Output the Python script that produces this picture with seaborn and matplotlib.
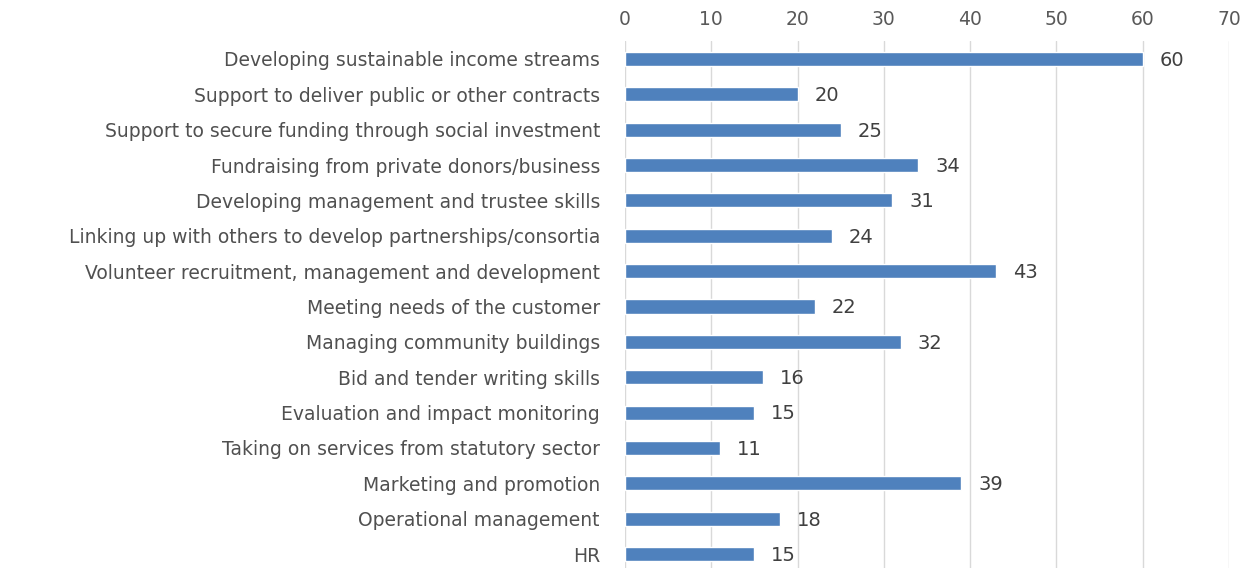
import numpy as np
import pandas as pd
import matplotlib.pyplot as plt
import seaborn as sns


categorie = [
    "Developing sustainable income streams",
    "Support to deliver public or other contracts",
    "Support to secure funding through social investment",
    "Fundraising from private donors/business",
    "Developing management and trustee skills",
    "Linking up with others to develop partnerships/consortia",
    "Volunteer recruitment, management and development",
    "Meeting needs of the customer",
    "Managing community buildings",
    "Bid and tender writing skills",
    "Evaluation and impact monitoring",
    "Taking on services from statutory sector",
    "Marketing and promotion",
    "Operational management",
    "HR",
]
valori = [60, 20, 25, 34, 31, 24, 43, 22, 32, 16, 15, 11, 39, 18, 15]
tick_x = [0, 10, 20, 30, 40, 50, 60, 70]


def grafico():
    sns.set_style("white")
    plt.rcParams["font.family"] = ["DejaVu Sans"]

    df = pd.DataFrame({"categoria": categorie, "valore": valori})

    fig = plt.figure(figsize=(12.53, 5.68), dpi=100)
    ax = fig.add_axes([0.4988, -0.0065, 0.482, 0.9338])

    sns.barplot(data=df, y="categoria", x="valore", orient="h",
                color="#4F81BD", saturation=1, width=0.4, ax=ax, zorder=3)

    ax.set_xlim(0, 70)
    ax.set_xticks(tick_x)
    ax.xaxis.tick_top()
    ax.tick_params(axis="x", length=0, pad=9, labelsize=13.5, labelcolor="#595959")
    ax.tick_params(axis="y", length=0, pad=18, labelsize=13.5, labelcolor="#505050")
    ax.grid(axis="x", color="#D9D9D9", linewidth=1, zorder=0)
    ax.set_axisbelow(True)
    for s in ax.spines.values():
        s.set_visible(False)
    ax.set_xlabel("")
    ax.set_ylabel("")

    for i, v in enumerate(valori):
        ax.annotate(str(v), xy=(v, i), xytext=(12, -1), textcoords="offset points",
                    ha="left", va="center", fontsize=14, color="#404040")

    fig.savefig("out.png", dpi=100)


if __name__ == "__main__":
    grafico()
